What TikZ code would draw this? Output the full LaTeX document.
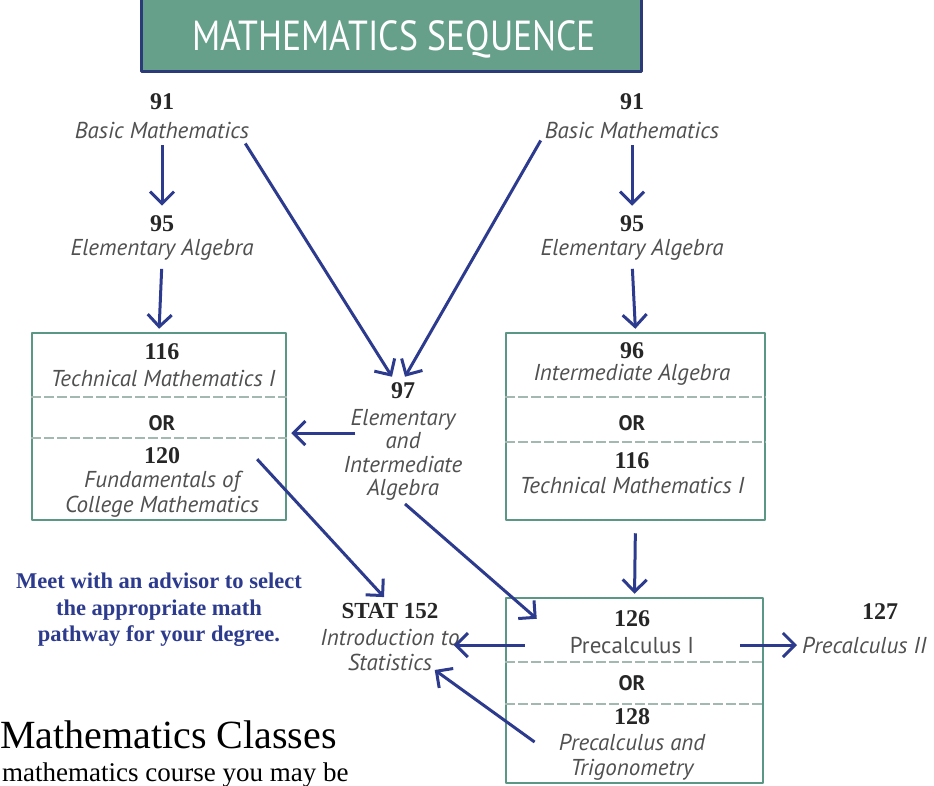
\documentclass[tikz,border=0pt]{standalone}
\usepackage{fontspec}
\setmainfont{PT Sans}
\newfontfamily\numfont{Liberation Serif}
\usetikzlibrary{arrows.meta}
\definecolor{arrowblue}{HTML}{2D3B8E}
\definecolor{boxgreen}{HTML}{5A9784}
\definecolor{bannergreen}{HTML}{66A08B}
\definecolor{bannerblue}{HTML}{2B3A78}
\definecolor{textgrey}{HTML}{505050}
\definecolor{dashgrey}{HTML}{A3B8B0}
\begin{document}
\begin{tikzpicture}[x=1pt, y=-1pt, line join=round,
	num/.style={font=\numfont\fontsize{24}{24}\selectfont\bfseries, text=black!85, inner sep=0},
	crs/.style={font=\fontsize{23}{25}\selectfont\itshape, text=textgrey, inner sep=0, align=center},
	orword/.style={font=\fontsize{21}{21}\selectfont\bfseries, text=black!85, inner sep=0},
	coursebox/.style={draw=boxgreen, line width=2.5pt, inner sep=0},
	orline/.style={dashgrey, line width=1.5pt, dash pattern=on 10pt off 3pt},
	arr/.style={arrowblue, line width=3pt, -{Straight Barb[length=12pt,width=24pt]}}]
	\useasboundingbox (0,0) rectangle (934,785);
	% banner
	\node[draw=bannerblue, fill=bannergreen, line width=3pt, minimum width=500pt, minimum height=76pt, inner sep=0] (banner) at (391,33) {};
	\node[text=white, inner sep=0, font=\fontsize{42}{42}\selectfont] (title) at (394,39) {\scalebox{0.85}[1]{MATHEMATICS SEQUENCE}};
	% left column
	\node[num] (n91L) at (162,102) {91};
	\node[crs] (t91L) at (162,130) {Basic Mathematics};
	\node[num] (n95L) at (162,224) {95};
	\node[crs] (t95L) at (162,250) {Elementary Algebra};
	\node[coursebox, minimum width=254pt, minimum height=187pt] (boxL) at (159,426.5) {};
	\node[num] (n116L) at (162,352) {116};
	\node[crs] (t116L) at (163,378) {Technical Mathematics I};
	\node[orword] (orL) at (162,423) {OR};
	\node[num] (n120) at (162,456) {120};
	\node[crs] (t120) at (162,494.5) {Fundamentals of\\College Mathematics};
	\draw[orline] (boxL.west |- 0,397) -- (boxL.east |- 0,397);
	\draw[orline] (boxL.west |- 0,438) -- (boxL.east |- 0,438);
	% middle
	\node[num] (n97) at (403,391) {97};
	\node[crs, font=\fontsize{23}{23.5}\selectfont\itshape] (t97) at (403,455) {Elementary\\and\\Intermediate\\Algebra};
	% right column
	\node[num] (n91R) at (632,102) {91};
	\node[crs] (t91R) at (632,130) {Basic Mathematics};
	\node[num] (n95R) at (632,224) {95};
	\node[crs] (t95R) at (632,250) {Elementary Algebra};
	\node[coursebox, minimum width=259pt, minimum height=187pt] (boxR) at (635.5,426.5) {};
	\node[num] (n96) at (632,351) {96};
	\node[crs] (t96) at (632,375) {Intermediate Algebra};
	\node[orword] (orR) at (632,423) {OR};
	\node[num] (n116R) at (632,461) {116};
	\node[crs] (t116R) at (632,485) {Technical Mathematics I};
	\draw[orline] (boxR.west |- 0,397) -- (boxR.east |- 0,397);
	\draw[orline] (boxR.west |- 0,442) -- (boxR.east |- 0,442);
	% precalculus box
	\node[coursebox, minimum width=257pt, minimum height=185pt] (boxB) at (634.5,690.5) {};
	\node[num] (n126) at (632,619) {126};
	\node[crs, font=\fontsize{23}{25}\selectfont] (t126) at (632,645) {Precalculus I};
	\node[orword] (orB) at (632,683) {OR};
	\node[num] (n128) at (632,717) {128};
	\node[crs] (t128) at (632,757) {Precalculus and\\Trigonometry};
	\draw[orline] (boxB.west |- 0,662) -- (boxB.east |- 0,662);
	\draw[orline] (boxB.west |- 0,704) -- (boxB.east |- 0,704);
	\node[num] (n127) at (880,612) {127};
	\node[crs, anchor=west] (t127) at (802,645) {Precalculus II};
	% statistics
	\node[num, font=\numfont\fontsize{23}{23}\selectfont\bfseries] (nstat) at (390,611) {STAT 152};
	\node[crs] (tstat) at (390,650) {Introduction to\\Statistics};
	% advisor note and page text
	\node[font=\numfont\fontsize{22.5}{26.5}\selectfont\bfseries, text=arrowblue, align=center, inner sep=0] (advisor) at (159,610) {Meet with an advisor to select\\the appropriate math\\pathway for your degree.};
	\node[font=\numfont\fontsize{40}{40}\selectfont, anchor=base west, inner sep=0] (heading) at (0,748) {Mathematics Classes};
	\node[font=\numfont\fontsize{27}{27}\selectfont, anchor=base west, inner sep=0] (bodytext) at (2,781) {mathematics course you may be};
	% arrows
	\draw[arr, shorten <=7pt, shorten >=10pt] (t91L.south) -- (n95L.north);
	\draw[arr, shorten <=8pt, shorten >=3pt] (t95L.south) -- (boxL.north);
	\draw[arr, shorten <=7pt, shorten >=10pt] (t91R.south) -- (n95R.north);
	\draw[arr, shorten <=8pt, shorten >=3pt] (t95R.south) -- (boxR.north);
	\draw[arr] ([shift={(-4pt,-5pt)}]t91L.south east) -- ([shift={(-11pt,6pt)}]n97.north);
	\draw[arr] ([shift={(-4pt,-2pt)}]t91R.south west) -- ([shift={(2pt,6pt)}]n97.north);
	\coordinate (p97) at ([shift={(12pt,22pt)}]t97.west);
	\draw[arr, shorten >=4pt] (p97) -- (p97 -| boxL.east);
	\draw[arr] ([shift={(-2pt,12pt)}]t120.north east) -- ([shift={(-6pt,6pt)}]nstat.north);
	\draw[arr] ([shift={(2pt,-3pt)}]t97.south) -- ([shift={(32pt,-22pt)}]boxB.north west);
	\draw[arr, shorten <=12pt, shorten >=3pt] (boxR.south) -- (boxB.north);
	\draw[arr, shorten <=45pt, shorten >=-6pt] (t126.west) -- (tstat.east |- t126.west);
	\draw[arr, shorten <=46pt, shorten >=5pt] (t126.east) -- (t127.west);
	\draw[arr] ([shift={(-24pt,15pt)}]t128.west) -- ([shift={(-25pt,1pt)}]tstat.south east);
\end{tikzpicture}
\end{document}
